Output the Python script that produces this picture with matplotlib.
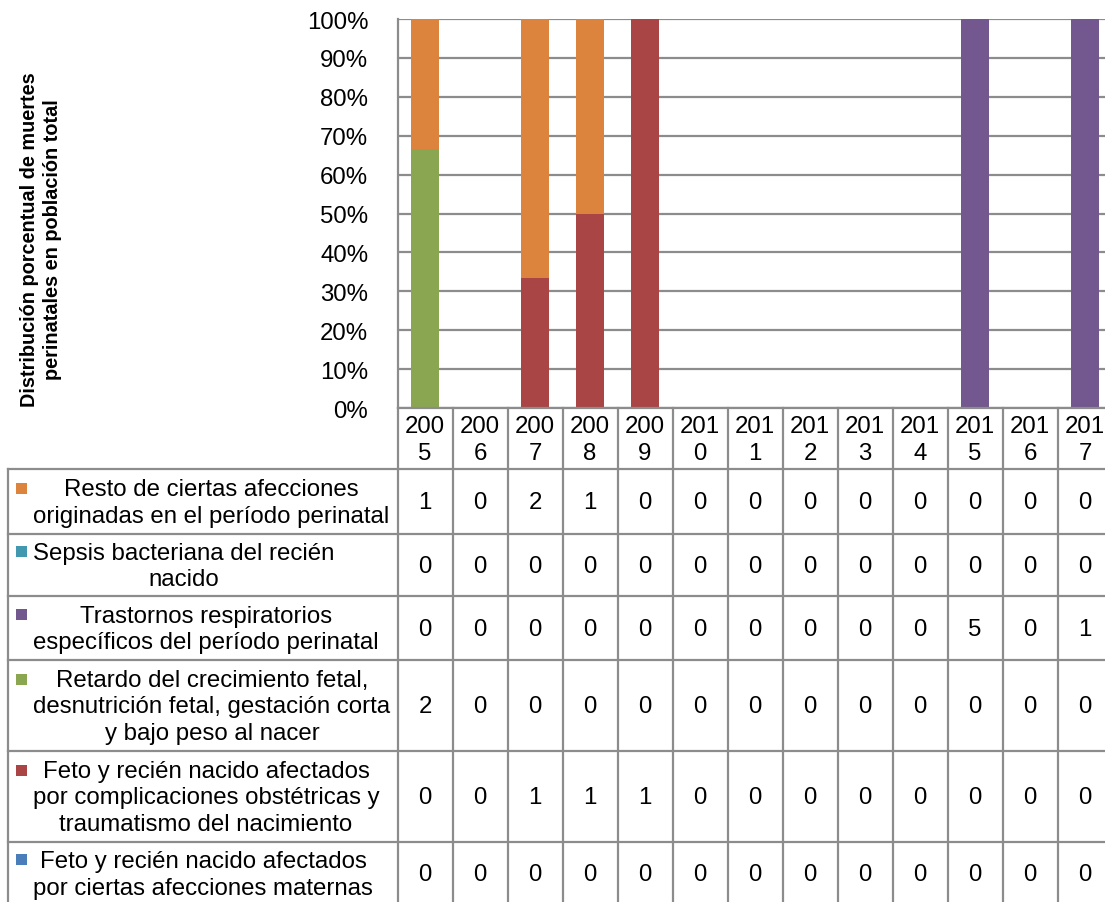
import numpy as np ;
import matplotlib ;
matplotlib.use("Agg") ;
import matplotlib.pyplot as plt ;
from matplotlib.patches import Rectangle ;
from matplotlib.transforms import blended_transform_factory ;

plt.rcParams['font.family'] = ['Liberation Sans', 'DejaVu Sans'] ;

# data
years = ['2005', '2006', '2007', '2008', '2009', '2010', '2011',
         '2012', '2013', '2014', '2015', '2016', '2017'] ;

resto          = [1, 0, 2, 1, 0, 0, 0, 0, 0, 0, 0, 0, 0] ;
sepsis         = [0, 0, 0, 0, 0, 0, 0, 0, 0, 0, 0, 0, 0] ;
trastornos     = [0, 0, 0, 0, 0, 0, 0, 0, 0, 0, 5, 0, 1] ;
retardo        = [2, 0, 0, 0, 0, 0, 0, 0, 0, 0, 0, 0, 0] ;
complicaciones = [0, 0, 1, 1, 1, 0, 0, 0, 0, 0, 0, 0, 0] ;
maternas       = [0, 0, 0, 0, 0, 0, 0, 0, 0, 0, 0, 0, 0] ;

# table order (top -> bottom), stacked in reverse order
labels = ["Resto de ciertas afecciones\noriginadas en el período perinatal",
          "Sepsis bacteriana del recién\nnacido",
          "Trastornos respiratorios\nespecíficos del período perinatal",
          "Retardo del crecimiento fetal,\ndesnutrición fetal, gestación corta\ny bajo peso al nacer",
          "Feto y recién nacido afectados\npor complicaciones obstétricas y\ntraumatismo del nacimiento",
          "Feto y recién nacido afectados\npor ciertas afecciones maternas"] ;
series = [resto, sepsis, trastornos, retardo, complicaciones, maternas] ;
colors = ['#DC843E', '#4198AF', '#72588E', '#8BA650', '#A94645', '#4A7EBB'] ;

yticks = [0, 10, 20, 30, 40, 50, 60, 70, 80, 90, 100] ;

# -------------------------------------------------------------------
W, H = 1105, 903 ;
grid_c = '#8C8C8C' ;
fs = 17.3 ;

fig = plt.figure(figsize=(W/100., H/100.), dpi=100) ;

ax_l, ax_r, ax_t, ax_b = 397.5, 397.5 + 13*55, 20, 409 ;
ax = fig.add_axes([ax_l/W, 1 - ax_b/H, (ax_r-ax_l)/W, (ax_b-ax_t)/H]) ;

data = np.array(series, dtype=float) ;
tot = data.sum(axis=0) ;
pct = np.where(tot > 0, data / np.where(tot > 0, tot, 1) * 100, 0) ;

x = np.arange(len(years)) ;
bottom = np.zeros(len(years)) ;
for k in range(len(series)-1, -1, -1):   # bottom of stack = last table row
  ax.bar(x, pct[k], 0.52, bottom=bottom, color=colors[k], zorder=3) ;
  bottom += pct[k] ;

ax.set_xlim(-0.5, len(years) - 0.5) ;
ax.set_ylim(0, 100) ;
ax.set_yticks(yticks) ;
ax.set_yticklabels(["%d%%" % v for v in yticks], fontsize=fs) ;
ax.tick_params(axis='y', length=0, pad=21) ;
ax.set_xticks([]) ;
ax.yaxis.grid(True, color=grid_c, lw=1.6) ;
ax.set_axisbelow(True) ;
for s in ['top', 'right', 'bottom']:
  ax.spines[s].set_visible(False) ;
ax.spines['left'].set_color(grid_c) ;
ax.spines['left'].set_linewidth(1.6) ;

fig.text(41/W, 1 - 240/H, "Distribución porcentual de muertes\nperinatales en población total",
         rotation=90, ha='center', va='center', fontsize=14.3, fontweight='bold', linespacing=1.3) ;

# ---- data table below the plot, in pixel coords for y --------------
tax = fig.add_axes([0, 0, 1, 1], facecolor='none') ;
tax.set_xlim(0, W) ;
tax.set_ylim(H, 0) ;
tax.axis('off') ;
bt = blended_transform_factory(ax.transData, tax.transData) ;

head_t, head_b = 409, 470 ;
rows = [470, 535, 597, 661, 752, 843, 906] ;
left = 8 ;
lh = 26 ;
lab_cx = [211, 184, 206, 212, 206, 203] ;

# column separators (header + body)
for i in range(len(years) + 1):
  tax.plot([i - 0.5, i - 0.5], [head_t, rows[-1]], color=grid_c, lw=1.6,
           transform=bt, clip_on=False) ;
tax.plot([ax_l, W + 10], [head_t, head_t], color=grid_c, lw=1.6) ;
for r in rows:
  tax.plot([left, W + 10], [r, r], color=grid_c, lw=1.6) ;
tax.plot([left, left], [rows[0], rows[-1]], color=grid_c, lw=1.6) ;

# header years
for i, y in enumerate(years):
  tax.text(i, (head_t + head_b) / 2. + 1, y[:3] + "\n" + y[3:], ha='center', va='center',
           fontsize=fs, linespacing=1.3, transform=bt) ;

# body rows
for k in range(len(series)):
  yc = (rows[k] + rows[k+1]) / 2. ;
  nl = labels[k].count("\n") + 1 ;
  y1 = yc - (nl - 1) / 2. * lh ;
  tax.add_patch(Rectangle((16, y1 - 6), 11, 11, color=colors[k], lw=0)) ;
  tax.text(lab_cx[k], yc + 1, labels[k], ha='center', va='center', fontsize=fs,
           linespacing=1.24, multialignment='center') ;
  for i in range(len(years)):
    tax.text(i, yc + 1, "%d" % series[k][i], ha='center', va='center', fontsize=fs,
             transform=bt) ;

fig.savefig("out.png", dpi=100) ;
